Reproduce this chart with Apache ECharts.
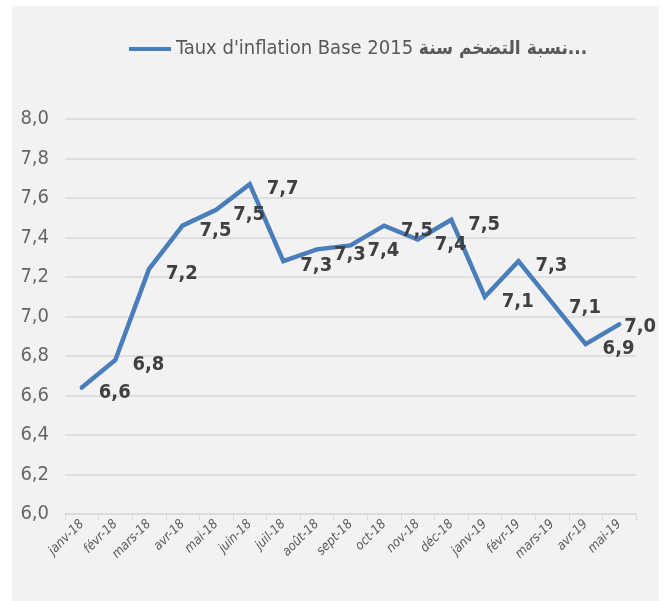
<!DOCTYPE html>
<html>
<head>
    <meta charset="utf-8">
</head>
<body style="margin: 0; background: #ffffff">
    <div style="position: absolute; left: 12px; top: 6px; width: 647px; height: 595px; background: #f2f2f2"></div>
    <div id="container" style="position: absolute; left: 0; top: 0; width: 667px; height: 601px"></div>

    <script type="text/javascript" src="https://cdn.jsdelivr.net/npm/echarts@6.0.0/dist/echarts.min.js"></script>
    <script type="text/javascript">
        var months = ['janv-18', 'févr-18', 'mars-18', 'avr-18', 'mai-18', 'juin-18', 'juil-18', 'août-18',
            'sept-18', 'oct-18', 'nov-18', 'déc-18', 'janv-19', 'févr-19', 'mars-19', 'avr-19', 'mai-19'];
        var inflation = [6.64, 6.78, 7.24, 7.46, 7.54, 7.67, 7.28, 7.34, 7.36, 7.46, 7.39, 7.49, 7.10, 7.28, 7.07, 6.86, 6.96];
        var seriesName = "Taux d'inflation Base 2015 نسبة التضخم سنة...";

        var font = '"DejaVu Sans Condensed", "DejaVu Sans", sans-serif';
        var blue = '#4a7ebb';
        var dom = document.getElementById("container");
        var myChart = echarts.init(dom, null, { renderer: 'canvas' });

        function comma(v, digits) {
            return Number(v).toFixed(digits).replace('.', ',');
        }

        var option = {
            animation: false,
            legend: {
                left: 124,
                top: 34,
                itemWidth: 42,
                itemHeight: 14,
                itemGap: 5,
                icon: 'path://M0,5 L42,5 L42,9 L0,9 Z',
                itemStyle: { color: blue, opacity: 1 },
                data: [seriesName],
                formatter: function () {
                    return "{a|Taux d'inflation Base 2015 }{b|نسبة التضخم سنة...}";
                },
                textStyle: {
                    rich: {
                        a: { fontFamily: font, fontSize: 20, color: '#595959' },
                        b: { fontFamily: font, fontSize: 19, fontWeight: 'bold', color: '#595959' }
                    }
                }
            },
            grid: {
                left: 65,
                right: 31,
                top: 119,
                bottom: 87
            },
            xAxis: {
                type: 'category',
                data: months,
                boundaryGap: true,
                axisLine: { lineStyle: { color: '#d9d9d9', width: 1.5 } },
                axisTick: { show: true, length: 6, lineStyle: { color: '#d9d9d9' } },
                axisLabel: {
                    rotate: 45,
                    interval: 0,
                    margin: 8,
                    color: '#595959',
                    fontFamily: font,
                    fontStyle: 'italic',
                    fontSize: 13
                },
                splitLine: { show: false }
            },
            yAxis: {
                type: 'value',
                min: 6,
                max: 8,
                interval: 0.2,
                axisLine: { show: false },
                axisTick: { show: false },
                axisLabel: {
                    margin: 16,
                    color: '#666666',
                    fontFamily: font,
                    fontSize: 20,
                    formatter: function (v) { return comma(v, 1); }
                },
                splitLine: { lineStyle: { color: '#d9d9d9', width: 1.5 } }
            },
            series: [
                {
                    name: seriesName,
                    type: 'line',
                    data: inflation,
                    symbol: 'circle',
                    symbolSize: 2,
                    showSymbol: true,
                    itemStyle: { color: blue },
                    lineStyle: { width: 4.5, color: blue, cap: 'round', join: 'miter' },
                    label: {
                        show: true,
                        position: 'right',
                        distance: 16,
                        fontFamily: font,
                        fontSize: 20,
                        fontWeight: 'bold',
                        color: '#404040',
                        formatter: function (p) { return comma(p.value, 1); }
                    },
                    // labels sit a little below the point; the last one is pulled back toward it
                    labelLayout: function (params) {
                        if (params.dataIndex === inflation.length - 1) {
                            return { dx: -12, dy: 2 };
                        }
                        return { dy: 5 };
                    }
                }
            ]
        };
        myChart.setOption(option);
    </script>
</body>
</html>
